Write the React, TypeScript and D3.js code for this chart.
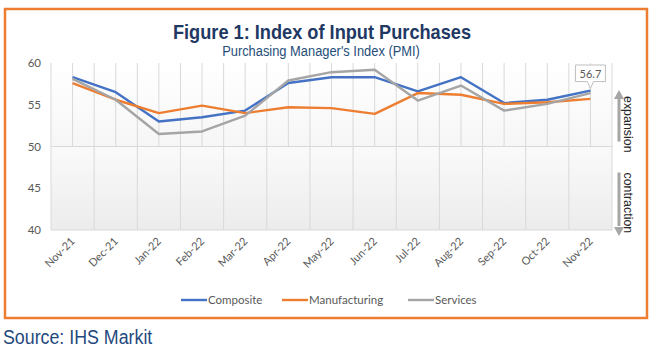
import React from "react";
import * as d3 from "d3";

const months = [
  "Nov-21", "Dec-21", "Jan-22", "Feb-22", "Mar-22", "Apr-22", "May-22",
  "Jun-22", "Jul-22", "Aug-22", "Sep-22", "Oct-22", "Nov-22",
];
const composite = [58.3, 56.5, 53.0, 53.5, 54.3, 57.6, 58.3, 58.3, 56.6, 58.3, 55.2, 55.6, 56.7];
const manufacturing = [57.6, 55.6, 54.0, 54.9, 54.0, 54.7, 54.6, 53.9, 56.4, 56.2, 55.1, 55.3, 55.7];
const services = [58.1, 55.6, 51.5, 51.8, 53.7, 57.9, 58.9, 59.2, 55.5, 57.3, 54.3, 55.1, 56.4];
const yTicks = [40, 45, 50, 55, 60];

const series = [
  { name: "Composite", values: composite, color: "#4472C4" },
  { name: "Manufacturing", values: manufacturing, color: "#ED7D31" },
  { name: "Services", values: services, color: "#A5A5A5" },
];

const W = 652;
const H = 352;
const navy = "#1F3864";
const txt = "#595959";
const grid = "#D9D9D9";
const tickFont = "Lato, 'Open Sans', sans-serif";
const sans = "'Liberation Sans', Arial, sans-serif";

export default function App() {
  const x = d3.scaleBand<string>().domain(months).range([51, 612]);
  const y = d3.scaleLinear().domain([40, 60]).range([230, 63]);
  const cx = (m: string) => (x(m) ?? 0) + x.bandwidth() / 2;

  const line = d3
    .line<number>()
    .x((_, i) => cx(months[i]))
    .y((v) => y(v));

  const last = months[months.length - 1];
  const lastVal = composite[composite.length - 1];
  const lx = cx(last);
  const ly = y(lastVal);

  const legendX = [181, 282, 408];

  return (
    <svg
      width={W}
      height={H}
      style={{ position: "absolute", left: 0, top: 0, background: "#fff" }}
    >
      <defs>
        <linearGradient id="upper" x1="0" y1="0" x2="0" y2="1">
          <stop offset="0" stopColor="#ffffff" />
          <stop offset="1" stopColor="#f6f6f6" />
        </linearGradient>
        <linearGradient id="lower" x1="0" y1="0" x2="0" y2="1">
          <stop offset="0" stopColor="#fafafa" />
          <stop offset="1" stopColor="#ececec" />
        </linearGradient>
      </defs>

      <rect x={5} y={9} width={642} height={309} fill="#fff" stroke="#ED7D31" strokeWidth={2.5} />

      <text
        transform="translate(322,39) scale(0.91,1)"
        textAnchor="middle"
        fontFamily={sans}
        fontWeight="bold"
        fontSize={20}
        fill={navy}
      >
        Figure 1: Index of Input Purchases
      </text>
      <text
        transform="translate(321,56) scale(0.92,1)"
        textAnchor="middle"
        fontFamily={sans}
        fontSize={14}
        fill="#1F4E79"
      >
        Purchasing Manager's Index (PMI)
      </text>

      {/* plot background */}
      <rect x={51} y={y(60)} width={561} height={y(50) - y(60)} fill="url(#upper)" />
      <rect x={51} y={y(50)} width={561} height={y(40) - y(50)} fill="url(#lower)" />

      {/* gridlines */}
      {months.map((m) => (
        <line key={"c" + m} x1={cx(m)} x2={cx(m)} y1={y(60)} y2={y(50)} stroke={grid} strokeWidth={1} />
      ))}
      {[...months.map((m) => x(m) ?? 0), 612].map((bx, i) => (
        <line key={"b" + i} x1={bx} x2={bx} y1={y(60)} y2={y(40)} stroke={grid} strokeWidth={1} />
      ))}
      <line x1={51} x2={612} y1={y(50)} y2={y(50)} stroke={grid} strokeWidth={1} />
      <line x1={51} x2={612} y1={y(40)} y2={y(40)} stroke={grid} strokeWidth={1} />

      {yTicks.map((t) => (
        <text key={t} x={41} y={y(t)} dy="0.35em" textAnchor="end" fontFamily={tickFont} fontSize={11.5} fill={txt}>
          {t}
        </text>
      ))}

      {months.map((m) => (
        <text
          key={"l" + m}
          transform={`translate(${cx(m) + 3},${242}) rotate(-45)`}
          textAnchor="end"
          fontFamily={tickFont}
          fontSize={11}
          fill={txt}
        >
          {m}
        </text>
      ))}

      {series.map((s) => (
        <path key={s.name} d={line(s.values) ?? ""} fill="none" stroke={s.color} strokeWidth={2.4} strokeLinejoin="round" />
      ))}

      {/* data callout */}
      <path
        d={`M${lx - 15},${y(60) + 2} H${lx + 15} V${ly - 9} H${lx + 3} L${lx},${ly - 2} L${lx - 3},${ly - 9} H${lx - 15} Z`}
        fill="#fff"
        stroke="#BFBFBF"
        strokeWidth={1}
      />
      <text x={lx} y={y(60) + 11} dy="0.35em" textAnchor="middle" fontFamily={tickFont} fontSize={11} fill={txt}>
        {lastVal}
      </text>

      {/* expansion / contraction arrows */}
      <g fill="#A6A6A6" stroke="none">
        <rect x={617.5} y={y(60) + 35} width={3} height={y(50) - y(60) - 40} />
        <path d={`M${619},${y(60) + 27} l5,9 h-10 Z`} />
        <rect x={617.5} y={y(50) + 26} width={3} height={y(40) - y(50) - 30} />
        <path d={`M${619},${y(40) + 6} l5,-9 h-10 Z`} />
      </g>
      <text transform={`translate(624,${y(60) + 33}) rotate(90) scale(0.92,1)`} fontFamily={sans} fontSize={13.5} fill="#262626">
        expansion
      </text>
      <text transform={`translate(624,${y(50) + 26}) rotate(90) scale(0.92,1)`} fontFamily={sans} fontSize={13.5} fill="#262626">
        contraction
      </text>

      {/* legend */}
      {series.map((s, i) => (
        <g key={"lg" + s.name}>
          <line x1={legendX[i]} x2={legendX[i] + 26} y1={300} y2={300} stroke={s.color} strokeWidth={2.4} />
          <text x={legendX[i] + 27} y={300} dy="0.35em" fontFamily={tickFont} fontSize={11.5} fill={txt}>
            {s.name}
          </text>
        </g>
      ))}

      <text transform="translate(3,344) scale(0.89,1)" fontFamily={sans} fontSize={20} fill="#1F497D">
        Source: IHS Markit
      </text>
    </svg>
  );
}
